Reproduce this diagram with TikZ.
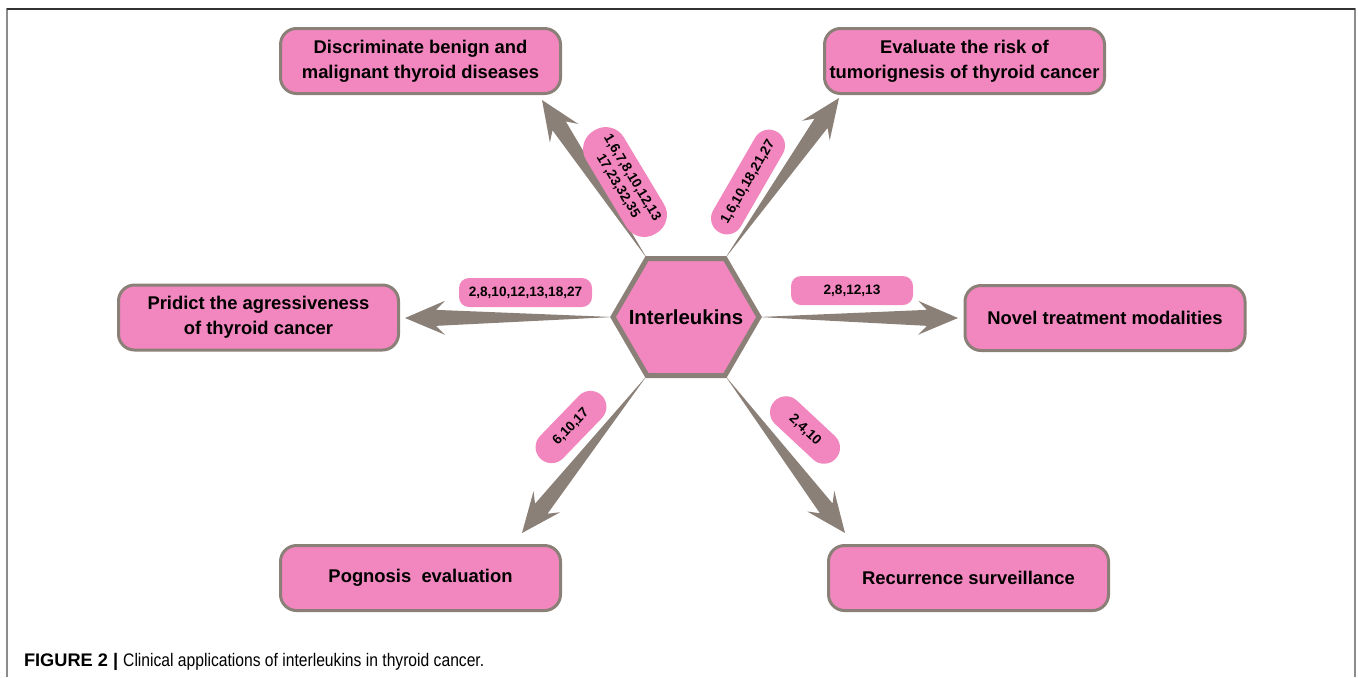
\documentclass[tikz,border=0pt]{standalone}
\usepackage{fontspec}
\setmainfont{Liberation Sans}
\newfontfamily\capfont[FakeStretch=0.86]{Liberation Sans}
\usetikzlibrary{calc}

\definecolor{ilpink}{RGB}{241,135,190}
\definecolor{ilgray}{RGB}{139,128,120}

% tapered arrow from a hexagon corner to a tip
\newcommand\wedgearrow[2]{%
  \fill [ilgray] (#1)
    -- ($(#2)!15.5pt!(#1)!4pt!90:(#1)$)
    -- ($(#2)!20pt!(#1)!8.5pt!90:(#1)$)
    -- (#2)
    -- ($(#2)!20pt!(#1)!8.5pt!-90:(#1)$)
    -- ($(#2)!15.5pt!(#1)!4pt!-90:(#1)$)
    -- cycle;}

\begin{document}
\begin{tikzpicture}[x=0.5pt,y=-0.5pt,
  appbox/.style={draw=ilgray, line width=1.5pt, fill=ilpink, rounded corners=8pt,
    minimum width=140pt, minimum height=32.5pt, inner sep=0pt, align=center,
    font=\fontsize{9.2}{12.5}\selectfont\bfseries},
  refpill/.style={fill=ilpink, inner sep=0pt, align=center,
    font=\fontsize{6.8}{8.2}\selectfont\bfseries}]
\useasboundingbox (0,0) rectangle (1358,677);

\draw [line width=1pt, black!45] (7,677) -- (7,9) -- (1355,9) -- (1355,677);
\draw [line width=1pt, black!80] (7,9) -- (1355,9);

\coordinate (hex) at (686,317);
\foreach \v/\dx/\dy in {vL/-73/0, vTL/-39/-58.5, vTR/39/-58.5,
                        vR/73/0, vBR/39/58.5, vBL/-39/58.5}
  \coordinate (\v) at ($(hex)+(\dx,\dy)$);

\foreach \tp/\px/\py in {tipTL/542/100, tipTR/839/98, tipL/405/318,
                         tipR/958/318, tipBL/522/533, tipBR/845/533}
  \coordinate (\tp) at (\px,\py);

\foreach \v/\tp in {vTL/tipTL, vTR/tipTR, vL/tipL, vR/tipR, vBL/tipBL, vBR/tipBR}
  \wedgearrow{\v}{\tp};

\filldraw [fill=ilpink, draw=ilgray, line width=2.5pt]
  (vL) -- (vTL) -- (vTR) -- (vR) -- (vBR) -- (vBL) -- cycle;
\node [font=\fontsize{10.2}{12}\selectfont\bfseries] (hexlabel) at (hex) {Interleukins};

\foreach \name/\px/\py/\txt in
  {disc/420.5/61/{Discriminate benign and\\malignant thyroid diseases},
   risk/964.5/61/{Evaluate the risk of\\tumorignesis of thyroid cancer},
   aggr/258.5/317.5/{Pridict the agressiveness\\of thyroid cancer},
   novel/1105/318/{Novel treatment modalities},
   progn/420.5/578/{Pognosis~ evaluation},
   recur/968.5/578/{Recurrence surveillance}}
  \node [appbox] (\name) at (\px,\py) {\txt};

\foreach \name/\px/\py/\ang/\w/\h/\r/\txt in
  {refl/525.5/292.5/0/66.5/14.5/5/{2,8,10,12,13,18,27},
   refr/852/290.5/0/61/14.5/5/{2,8,12,13},
   reftl/625/182/-59/60/22/10.5/{1,6,7,8,10,12,13\\17,23,32,35},
   reftr/748/182/60/58/16/8/{1,6,10,18,21,27},
   refbl/571/427/46/44/16/8/{6,10,17},
   refbr/805/430/-43/42/16/8/{2,4,10}}
  \node [refpill, rotate=\ang, minimum width=\w pt, minimum height=\h pt,
    rounded corners=\r pt] (\name) at (\px,\py) {\txt};

\node [anchor=base west, font=\fontsize{9.1}{11}\selectfont] (caption) at (17,666)
  {\textbf{FIGURE 2 |} \capfont Clinical applications of interleukins in thyroid cancer.};
\end{tikzpicture}
\end{document}
